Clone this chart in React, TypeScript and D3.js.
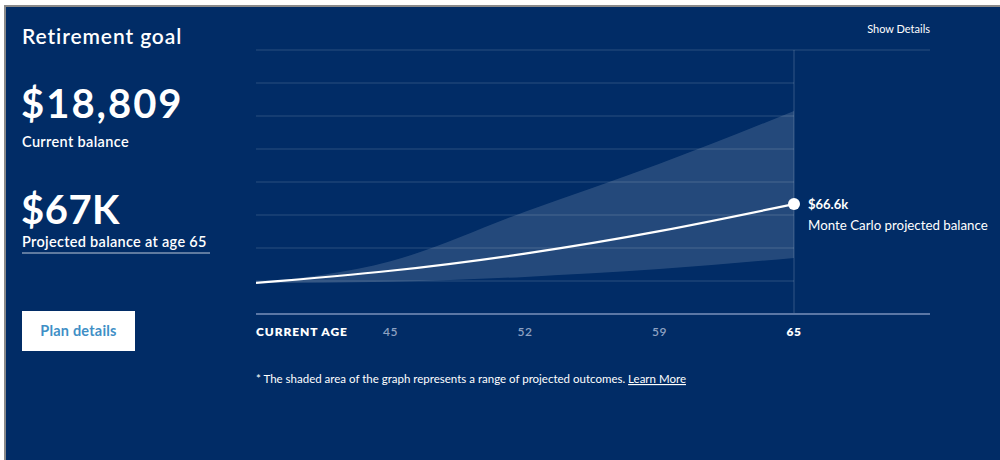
import React from "react";
import * as d3 from "d3";

// Age ticks along the bottom axis (first one is the current age)
const ageLabels = ["CURRENT AGE", "45", "52", "59", "65"];
// Monte Carlo median projection ($) at each tick
const projectedBalance = [18809, 26200, 36600, 50200, 66600];
// Range of projected outcomes ($)
const upperOutcome = [18809, 32000, 62000, 91000, 123000];
const lowerOutcome = [18809, 19600, 22500, 27200, 34000];
// Horizontal gridline values ($)
const gridValues = [20000, 40000, 60000, 80000, 100000, 120000, 140000, 160000];

const BG = "#012c66";
const GRID = "rgba(255,255,255,0.17)";
const FONT = "Lato, 'Open Sans', sans-serif";

export default function App() {
  const x = d3.scalePoint<string>().domain(ageLabels).range([256, 794]);
  const y = d3.scaleLinear().domain([0, 160000]).range([314, 50]);
  const idx = d3.range(ageLabels.length);

  const band = d3
    .area<number>()
    .x((i) => x(ageLabels[i])!)
    .y0((i) => y(lowerOutcome[i]))
    .y1((i) => y(upperOutcome[i]))
    .curve(d3.curveMonotoneX);

  const line = d3
    .line<number>()
    .x((i) => x(ageLabels[i])!)
    .y((i) => y(projectedBalance[i]))
    .curve(d3.curveNatural);

  const last = idx[idx.length - 1];
  const endX = x(ageLabels[last])!;
  const endY = y(projectedBalance[last]);
  const maxGrid = gridValues[gridValues.length - 1];

  return (
    <svg
      width={1000}
      height={460}
      style={{ position: "fixed", left: 0, top: 0, fontFamily: FONT }}
    >
      <rect x={0} y={0} width={1000} height={460} fill="#ffffff" />
      <rect x={4} y={5} width={996} height={455} fill="#8a8a8a" />
      <rect x={6} y={7} width={994} height={453} fill={BG} />

      {/* left summary panel */}
      <text x={22} y={44} fill="#fff" fontSize={21} fontWeight={600} letterSpacing={0.9}>
        Retirement goal
      </text>
      <text x={21} y={118} fill="#fff" fontSize={40} fontWeight={700} letterSpacing={2}>
        $18,809
      </text>
      <text x={22} y={147} fill="#fff" fontSize={14.5} fontWeight={600} letterSpacing={0.35}>
        Current balance
      </text>
      <text x={21} y={224} fill="#fff" fontSize={40} fontWeight={700} letterSpacing={0.5}>
        $67K
      </text>
      <text x={22} y={247} fill="#fff" fontSize={14.5} fontWeight={600} letterSpacing={0.3}>
        Projected balance at age 65
      </text>
      <line x1={22} x2={210} y1={253} y2={253} stroke="rgba(255,255,255,0.75)" strokeWidth={1} />
      <rect x={22} y={311} width={113} height={40} fill="#fff" />
      <text x={78.5} y={336} fill="#3f8fc6" fontSize={14.5} fontWeight={700} textAnchor="middle" letterSpacing={0.2}>
        Plan details
      </text>

      <text x={930} y={33} fill="#fff" fontSize={11} textAnchor="end">
        Show Details
      </text>

      {/* gridlines */}
      {gridValues.map((v) => (
        <line
          key={v}
          x1={256}
          x2={v === maxGrid ? 930 : endX}
          y1={y(v)}
          y2={y(v)}
          stroke={GRID}
          strokeWidth={1.2}
        />
      ))}
      <line x1={endX} x2={endX} y1={y(maxGrid)} y2={y(0)} stroke={GRID} strokeWidth={1.2} />

      {/* outcome range and projection */}
      <path d={band(idx)!} fill="rgba(255,255,255,0.14)" />
      <path d={line(idx)!} fill="none" stroke="#fff" strokeWidth={2.2} />
      <circle cx={endX} cy={endY} r={6} fill="#fff" />
      <text x={808} y={endY + 5} fill="#fff" fontSize={13} fontWeight={700}>
        $66.6k
      </text>
      <text x={808} y={endY + 26} fill="#fff" fontSize={13.3}>
        Monte Carlo projected balance
      </text>

      {/* x axis */}
      <line x1={256} x2={930} y1={y(0)} y2={y(0)} stroke="#5b77a5" strokeWidth={2} />
      {ageLabels.map((lab, i) => {
        const first = i === 0;
        const lastLab = i === ageLabels.length - 1;
        return (
          <text
            key={lab}
            x={x(lab)!}
            y={336}
            fill={first || lastLab ? "#fff" : "#8ea2c2"}
            fontSize={12}
            fontWeight={first || lastLab ? 800 : 600}
            textAnchor={first ? "start" : "middle"}
            letterSpacing={first ? 0.9 : 0.5}
          >
            {lab}
          </text>
        );
      })}

      <text x={256} y={383} fill="#fff" fontSize={11.5}>
        * The shaded area of the graph represents a range of projected outcomes.{" "}
        <tspan textDecoration="underline">Learn More</tspan>
      </text>
    </svg>
  );
}
